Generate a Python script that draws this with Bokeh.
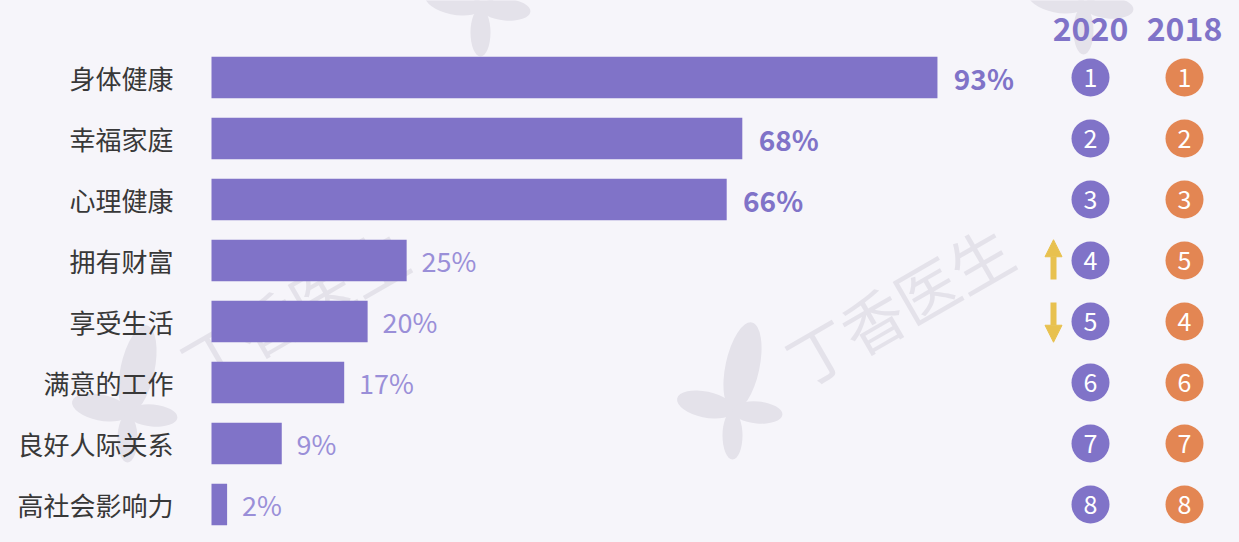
import math
from bokeh.plotting import figure
from bokeh.models import Range1d, ColumnDataSource, Arrow, NormalHead
from bokeh.core.properties import value
from bokeh.embed import file_html
from bokeh.resources import INLINE

# ---------------- data ----------------
categories = ["身体健康", "幸福家庭", "心理健康", "拥有财富", "享受生活", "满意的工作", "良好人际关系", "高社会影响力"]
values = [93, 68, 66, 25, 20, 17, 9, 2]
rank_2020 = [1, 2, 3, 4, 5, 6, 7, 8]
rank_2018 = [1, 2, 3, 5, 4, 6, 7, 8]
years = ["2020", "2018"]
watermark = "丁香医生"

# ---------------- style / layout ----------------
FONT = "Noto Sans CJK SC"
BG = "#f6f5fa"
PURPLE = "#8073c8"
LIGHT_PURPLE = "#9a8fd8"
ORANGE = "#e38653"
YELLOW = "#e8c14f"
DARK = "#383838"
WM = "#e4e2ea"

W, H = 1223, 526
PX_PER = 7.806   # pixels per percentage point
X0 = 211         # pixel of value 0
ROW = 61.0       # pixels per row
Y0 = 77          # pixel of first row centre


def fx(px):
    return (px - X0) / PX_PER


def fy(py):
    return (py - Y0) / ROW


p = figure(width=W, height=H, output_backend="svg", toolbar_location=None,
           x_range=Range1d(fx(0), fx(W)), y_range=Range1d(fy(H), fy(0)),
           min_border=0, background_fill_color=BG, border_fill_color=BG)
p.axis.visible = False
p.grid.visible = False
p.outline_line_color = None

# ---------------- watermark ----------------
logos = [(127, 413), (480, 7), (732, 410), (1083, 5)]
petals = [  # dx, dy, length, width, angle(deg)
    (10, -44, 90, 34, 78),
    (-27, -6, 58, 26, 168),
    (25, 2, 50, 22, -5),
    (0, 25, 48, 20, 90),
]
ex, ey, ew, eh, ea = [], [], [], [], []
for lx, ly in logos:
    for dx, dy, L, Wd, a in petals:
        ex.append(fx(lx + dx)); ey.append(fy(ly + dy))
        ew.append(L); eh.append(Wd); ea.append(math.radians(a))
p.ellipse(x=ex, y=ey, width=ew, height=eh, angle=ea,
          width_units="screen", height_units="screen",
          fill_color=WM, line_color=None)
wm_pos = [(293, 306), (898, 303)]
p.text(x=[fx(a) for a, b in wm_pos], y=[fy(b) for a, b in wm_pos],
       text=[watermark] * len(wm_pos), angle=math.radians(30),
       text_align="center", text_baseline="middle",
       text_font=value(FONT), text_font_size="62px", text_color=WM)

# ---------------- bars ----------------
rows = list(range(len(categories)))
src = ColumnDataSource(dict(y=rows, v=values, cat=categories,
                            r20=[str(r) for r in rank_2020],
                            r18=[str(r) for r in rank_2018]))
p.hbar(y="y", left=0, right="v", height=0.68, source=src,
       fill_color=PURPLE, line_color=None)

p.text(x=fx(173), y="y", text="cat", source=src,
       text_align="right", text_baseline="middle",
       text_font=value(FONT), text_font_size="26px", text_color=DARK)

top = [i for i in rows if rank_2020[i] <= 3]
rest = [i for i in rows if rank_2020[i] > 3]
p.text(x=[values[i] + 2.1 for i in top], y=top, text=[f"{values[i]}%" for i in top],
       text_align="left", text_baseline="middle", text_font=value(FONT),
       text_font_size="28px", text_font_style="bold", text_color=PURPLE)
p.text(x=[values[i] + 1.9 for i in rest], y=rest, text=[f"{values[i]}%" for i in rest],
       text_align="left", text_baseline="middle", text_font=value(FONT),
       text_font_size="27px", text_color=LIGHT_PURPLE)

# ---------------- rank columns ----------------
col_x = [fx(1090), fx(1184)]
p.text(x=col_x, y=[fy(28)] * 2, text=years,
       text_align="center", text_baseline="middle", text_font=value(FONT),
       text_font_size="32px", text_font_style="bold", text_color=PURPLE)

p.scatter(x=col_x[0], y="y", source=src, size=38, marker="circle",
          fill_color=PURPLE, line_color=None)
p.scatter(x=col_x[1], y="y", source=src, size=38, marker="circle",
          fill_color=ORANGE, line_color=None)
for cx, col in zip(col_x, ["r20", "r18"]):
    p.text(x=cx, y="y", text=col, source=src, text_align="center",
           text_baseline="middle", text_font=value(FONT),
           text_font_size="25px", text_color="white")

# ---------------- change arrows ----------------
ax = fx(1053)
a_ys, a_ye = [], []
for i in rows:
    d = rank_2018[i] - rank_2020[i]
    if d == 0:
        continue
    s = 1 if d > 0 else -1   # up when improved
    a_ys.append(i + 0.31 * s)
    a_ye.append(i - 0.34 * s)
asrc = ColumnDataSource(dict(xs=[ax] * len(a_ys), ys=a_ys, xe=[ax] * len(a_ys), ye=a_ye))
p.add_layout(Arrow(source=asrc, x_start="xs", y_start="ys", x_end="xe", y_end="ye",
                   line_color=YELLOW, line_width=6,
                   end=NormalHead(size=17, fill_color=YELLOW, line_color=YELLOW, line_width=1)))

html = file_html(p, INLINE)
html = html.replace("</head>", f"<style>html,body{{background:{BG};}}</style></head>", 1)
open("out.html", "w").write(html)
